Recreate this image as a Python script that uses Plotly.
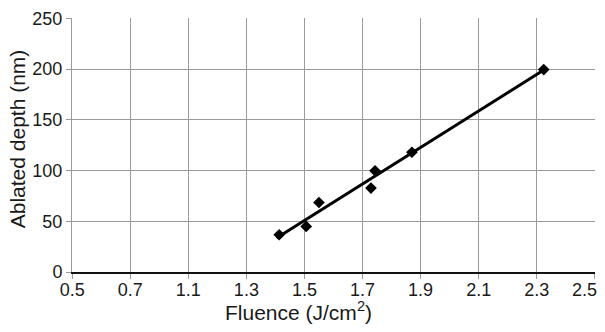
import numpy as np
import plotly.graph_objects as go

# Data (x in the axis' internal units; tick labels as printed on the original)
fluence = [1.413, 1.506, 1.550, 1.729, 1.743, 1.870, 2.324]
depth = [36.7, 44.9, 68.5, 82.7, 99.7, 118.0, 199.5]
x_tickvals = [0.7, 0.9, 1.1, 1.3, 1.5, 1.7, 1.9, 2.1, 2.3, 2.5]
x_ticktext = ["0.5", "0.7", "1.1", "1.3", "1.5", "1.7", "1.9", "2.1", "2.3", "2.5"]
y_tickvals = [0, 50, 100, 150, 200, 250]

# Linear trend line (least squares) over the data range
slope, intercept = np.polyfit(fluence, depth, 1)
fit_x = [1.404, max(fluence)]
fit_y = [slope * v + intercept for v in fit_x]

FONT = "Liberation Sans, Arial, Helvetica, sans-serif"
GRID = "#9a9a9a"
TXT = "#1a1a1a"

# last tick label sits at the figure edge: draw it as a nudged text instead
axis_text = x_ticktext[:-1] + [""]

fig = go.Figure()
fig.add_trace(go.Scatter(x=fit_x, y=fit_y, mode="lines",
                         line=dict(color="black", width=3), showlegend=False,
                         hoverinfo="skip"))
fig.add_trace(go.Scatter(x=fluence, y=depth, mode="markers",
                         marker=dict(symbol="diamond", size=9, color="black"),
                         showlegend=False))

fig.update_layout(
    width=589, height=316,
    margin=dict(l=64, r=2, t=10, b=52),
    paper_bgcolor="white", plot_bgcolor="white",
    font=dict(family=FONT, size=18, color=TXT),
    xaxis=dict(range=[0.6995, 2.5005], tickmode="array", tickvals=x_tickvals,
               ticktext=axis_text, showgrid=True, gridcolor=GRID, gridwidth=1,
               showline=True, linecolor="#111111", linewidth=2,
               ticks="outside", ticklen=5, tickcolor=GRID, zeroline=False,
               ticklabelstandoff=-5),
    yaxis=dict(range=[0, 250.3], tickmode="array", tickvals=y_tickvals,
               showgrid=True, gridcolor=GRID, gridwidth=1,
               showline=True, linecolor=GRID, linewidth=1,
               ticks="outside", ticklen=5, tickcolor=GRID, zeroline=False),
    annotations=[
        dict(text=x_ticktext[-1], xref="x", yref="paper", x=x_tickvals[-1],
             y=0, xanchor="center", yanchor="middle", xshift=-10, yshift=-18,
             showarrow=False, font=dict(size=18, family=FONT, color=TXT)),
        dict(text="Fluence (J/cm<sup>2</sup>)", xref="paper", yref="paper",
             x=0.434, y=-0.153, xanchor="center", yanchor="middle",
             showarrow=False, font=dict(size=21, family=FONT, color=TXT)),
        dict(text="Ablated depth (nm)", xref="paper", yref="paper",
             x=-0.104, y=0.525, xanchor="center", yanchor="middle",
             textangle=-90, showarrow=False,
             font=dict(size=21, family=FONT, color=TXT)),
    ],
)

fig.write_html("out.html")
